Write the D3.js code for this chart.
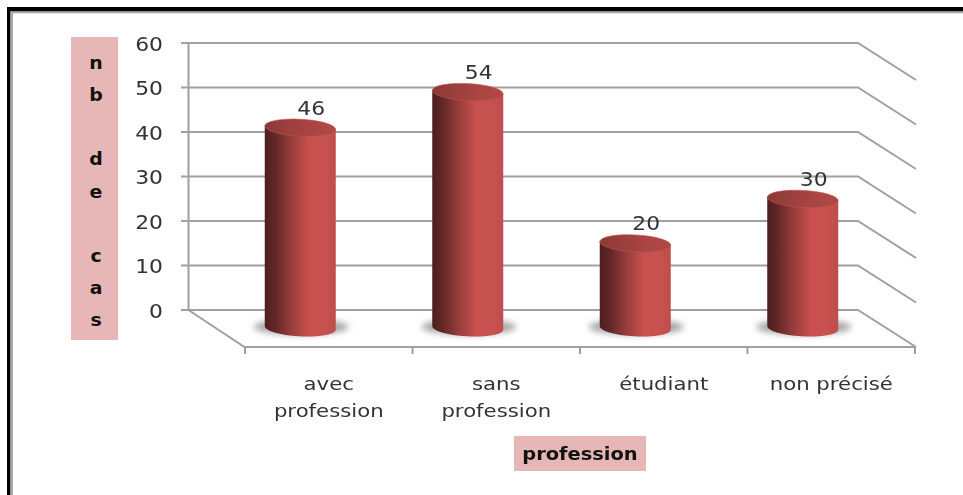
<!DOCTYPE html>
<html><head><meta charset="utf-8">
<script src="https://cdn.jsdelivr.net/npm/d3@7"></script>
<style>
html,body{margin:0;padding:0;background:#fff;overflow:hidden}
svg{display:block;filter:blur(0.45px)}
text{font-family:"DejaVu Sans",sans-serif}
</style></head><body>
<svg id="c" width="963" height="495"></svg>
<script>
const categories = [["avec","profession"],["sans","profession"],["étudiant"],["non précisé"]];
const values = [46,54,20,30];
const yTicks = [0,10,20,30,40,50,60];
const yTitleLetters = ["n","b","","d","e","","c","a","s"];
const xTitle = "profession";

const svg = d3.select("#c");
const W=963,H=495;
const gridCol="#a0a0a0";
const depthX=57, depthY=37;
const yWall=d3.scaleLinear().domain([0,60]).range([310,43]);
const yBar=d3.scaleLinear().domain([0,60]).range([332.4,65.4]);
const xFront=d3.scaleBand().domain(d3.range(categories.length)).range([245,915]);

function label(x,y,str,size,sx,anchor,col,weight){
  return svg.append("text").attr("transform",`translate(${x},${y}) scale(${sx},1)`)
    .attr("text-anchor",anchor).attr("font-size",size).attr("fill",col)
    .attr("font-weight",weight||"normal").text(str);
}

const defs=svg.append("defs");
const grad=defs.append("linearGradient").attr("id","cyl");
[[0,"#4d1e1d"],[.14,"#612726"],[.38,"#983e3c"],[.62,"#c9504e"],[.85,"#c65250"],[1,"#bf4d4b"]]
  .forEach(([o,c])=>grad.append("stop").attr("offset",o).attr("stop-color",c));
const gt=defs.append("linearGradient").attr("id","top");
[[0,"#8c3937"],[.6,"#a84442"],[1,"#b24846"]].forEach(([o,c])=>gt.append("stop").attr("offset",o).attr("stop-color",c));
defs.append("filter").attr("id","sh").attr("x","-30%").attr("y","-60%").attr("width","160%").attr("height","220%")
  .append("feGaussianBlur").attr("stdDeviation",3);

// frame
svg.append("rect").attr("x",7).attr("y",7).attr("width",W-7).attr("height",4.5).attr("fill","#000");
svg.append("rect").attr("x",7).attr("y",7).attr("width",3.5).attr("height",H-7).attr("fill","#000");
svg.append("rect").attr("x",10.5).attr("y",11.5).attr("width",W-10.5).attr("height",1.8).attr("fill","#a8a8a8");
svg.append("rect").attr("x",10.5).attr("y",11.5).attr("width",2.5).attr("height",H-11.5).attr("fill","#a8a8a8");

// y title box
svg.append("rect").attr("x",71).attr("y",37).attr("width",47).attr("height",303).attr("fill","#e6b7b6");
const yLet=d3.scaleLinear().domain([0,8]).range([63,320]);
yTitleLetters.forEach((d,i)=>label(96,yLet(i)+6,d,18,1.05,"middle","#111","bold"));

// walls
const line=d3.line();
const g=svg.append("g").attr("fill","none").attr("stroke",gridCol).attr("stroke-width",2);
const x0=188.5,x1=858;
yTicks.forEach(t=>{
  const y=yWall(t);
  g.append("path").attr("d",line([[181,y],[x1,y],[x1+depthX+1,y+depthY]]));
  label(163,y+7.5,t,19,1.15,"end","#333");
});
g.append("path").attr("d",line([[x0,yWall(60)],[x0,yWall(0)],[x0+depthX-1,yWall(0)+depthY],[915,yWall(0)+depthY]]));
d3.range(categories.length+1).forEach(i=>{
  const x=245+i*xFront.step();
  g.append("path").attr("d",line([[x,347],[x,354]]));
});

// bars
const hw=35.5, ry=8.5, tilt=3;
categories.forEach((c,i)=>{
  const cx=xFront(i)+xFront.bandwidth()/2-28.5;
  const base=yBar(0)-4.5, top=yBar(values[i]);
  svg.append("ellipse").attr("cx",cx+1).attr("cy",base-1).attr("rx",hw+12).attr("ry",ry-0.5)
     .attr("fill","#a6a6a6").attr("filter","url(#sh)");
  svg.append("path")
    .attr("d",`M${cx-hw},${top-2}L${cx-hw},${base-2}A${hw},${ry} ${tilt} 0 0 ${cx+hw},${base+2}L${cx+hw},${top+2}Z`)
    .attr("fill","url(#cyl)");
  svg.append("ellipse").attr("cx",cx).attr("cy",top).attr("rx",hw).attr("ry",ry)
    .attr("transform",`rotate(${tilt} ${cx} ${top})`)
    .attr("fill","url(#top)").attr("stroke","#bd5452").attr("stroke-width",.6);
  label(cx+11,top-13,values[i],19,1.15,"middle","#333");
  c.forEach((s,j)=>label(xFront(i)+xFront.bandwidth()/2,390+j*27,s,18,1.18,"middle","#333"));
});

// x title
svg.append("rect").attr("x",514).attr("y",436).attr("width",132).attr("height",35).attr("fill","#e6b7b6");
label(580,460,xTitle,18,1.08,"middle","#111","bold");
</script>
</body></html>
